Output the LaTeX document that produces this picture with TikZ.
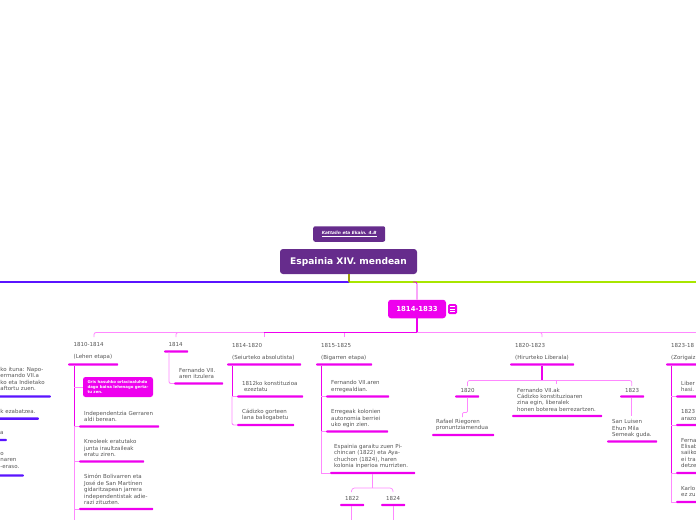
\documentclass[tikz,border=0pt]{standalone}
\usepackage{fontspec}
\setmainfont{DejaVu Sans}
\definecolor{rootp}{HTML}{662C8C}
\definecolor{mag}{HTML}{EE00EE}
\definecolor{lpink}{HTML}{FF88FF}
\definecolor{blu}{HTML}{5A14FF}
\definecolor{grn}{HTML}{A8E600}
\definecolor{txt}{HTML}{555555}
\tikzset{
  bar/.style={fill=mag,draw=none,rounded corners=0.8pt,minimum height=2.4pt,inner sep=0pt},
  bluebar/.style={fill=blu,draw=none,rounded corners=0.8pt,minimum height=2.4pt,inner sep=0pt},
  lbl/.style={anchor=west,inner sep=0pt,text=txt,font=\fontsize{5.5}{6.45}\selectfont,align=left},
  conn/.style={draw=lpink,line width=0.9pt,rounded corners=2pt},
}
\newcommand{\barnode}[4]{\node[bar,minimum width=#3pt-#2pt,anchor=west] (#1) at (#2,#4) {};}
\begin{document}
\begin{tikzpicture}[x=1pt,y=-1pt]
\useasboundingbox (0,0) rectangle (696,520);
\clip (0,0) rectangle (696,520);
% root
\node[fill=rootp,rounded corners=3pt,minimum width=137pt,minimum height=25pt,inner sep=0pt,text=white,font=\fontsize{9.1}{11}\bfseries\selectfont] (root) at (348.5,261.5) {Espainia XIV. mendean};
\node[fill=rootp,rounded corners=2pt,minimum width=72pt,minimum height=15.5pt,inner sep=0pt,text=white,font=\fontsize{4.3}{5}\bfseries\itshape\selectfont] (note) at (349.2,234) {\underline{Kattalin eta Ekain. 4.B}};
\coordinate (jn) at (349,282);
\coordinate (lft) at (0,282);
\coordinate (rgt) at (696,282);
\draw[blu,line width=1.2pt] (jn) -- (lft);
\draw[grn,line width=1.2pt] (jn) -- (rgt);
\draw[draw=olive!70!grn,line width=1.4pt] (root.south -| jn) -- (jn);
% main
\node[fill=mag,rounded corners=3pt,minimum width=58pt,minimum height=18.5pt,inner sep=0pt,text=white,font=\fontsize{6.9}{8}\bfseries\selectfont] (main) at (417,309) {1814-1833};
\node[fill=mag,rounded corners=1.5pt,minimum width=9pt,minimum height=10pt,inner sep=0pt] (ico) at (452.5,309) {};
\draw[white,line width=0.7pt] (449.8,306.5)--(455.2,306.5) (449.8,309)--(455.2,309) (449.8,311.5)--(455.2,311.5);
\coordinate (g0) at (413,282);
\draw[mag,line width=0.8pt,rounded corners=2pt] (g0) -- (417,282) -- (main.north);
\coordinate (hub) at (417,332.5);
\draw[mag,line width=1.1pt] (main.south) -- (hub);
% level 1 bars
\barnode{p1}{68}{118}{364.5}
\barnode{p2}{164}{188}{351.5}
\barnode{p3}{227}{301}{364.5}
\barnode{p4}{316}{372}{364.5}
\barnode{p5}{510}{574}{364.5}
\barnode{p6}{666}{697}{364.5}
% rail
\coordinate (t1) at (94,337);
\coordinate (t2) at (176,337);
\coordinate (t3) at (264,337);
\coordinate (t4) at (344,337);
\coordinate (t5) at (542,337);
\coordinate (t6) at (696,332.5);
\draw[conn,line width=0.8pt] (t1) -- (94,332.5) -- (hub);
\draw[conn,line width=0.8pt] (t2) -- (176,332.5) -- (hub);
\draw[mag,line width=0.9pt] (264,332.5) -- (hub);
\draw[conn,line width=0.8pt] (t3) -- (264,332.5);
\draw[conn,line width=0.8pt] (t4) -- (344,332.5);
\draw[conn,line width=0.8pt] (t5) -- (542,332.5) -- (hub);
\draw[lpink,line width=0.8pt] (hub) -- (t6);
% p1
\node[lbl] (p1a) at (73.5,344) {1810-1814};
\node[lbl] (p1b) at (73.5,357) {(Lehen etapa)};
\node[fill=mag,rounded corners=2.5pt,minimum width=70pt,minimum height=20pt,inner sep=0pt] (pk) at (118,387) {};
\node[anchor=west,inner sep=0pt,text=white,font=\fontsize{3.9}{5.4}\bfseries\selectfont,align=left] (pkt) at (87.3,387) {Gris hasuhko orlacioaluhdo\\dago baina lehenago gerta-\\tu zen.};
\barnode{a1}{79}{159}{426.5}
\node[lbl] (a1t) at (84,416.5) {Independentzia Gerraren\\aldi berean.};
\barnode{a2}{79}{144}{461.5}
\node[lbl] (a2t) at (84,448) {Kreoleek eratutako\\junta iraultzaileak\\eratu ziren.};
\barnode{a3}{79}{153}{509}
\node[lbl] (a3t) at (84,489.5) {Simón Bolivarren eta\\José de San Martínen\\gidaritzapean jarrera\\independentistak adie-\\razi zituzten.};
\coordinate (p1e) at (74,520);
\draw[lpink,line width=1pt] (74,366) -- (p1e);
\draw[mag,line width=1pt] (74,366) -- (74,426.5);
\draw[conn,line width=0.8pt] (74,387) -- (pk.west);
\draw[conn] (74,426.5) -- (a1.west);
\draw[conn] (74,461.5) -- (a2.west);
\draw[conn] (74,509) -- (a3.west);
% p2
\node[lbl] (p2a) at (168.5,344) {1814};
\barnode{b1}{174}{223}{383.5}
\node[lbl] (b1t) at (179,373.5) {Fernando VII.\\aren itzulera};
\draw[conn] (169,352) -- (169,383.5) -- (b1.west);
% p3
\node[lbl] (p3a) at (232,345) {1814-1820};
\node[lbl] (p3b) at (232,358) {(Seiurteko absolutista)};
\barnode{c1}{237}{303}{396.5}
\node[lbl] (c1t) at (242,386.5) {1812ko konstituzioa\\ \hspace*{1.8pt}ezeztatu};
\barnode{c2}{237}{294}{425}
\node[lbl] (c2t) at (242,415) {Cádizko gorteen\\lana baliogabetu};
\draw[mag,line width=0.8pt] (232,366) -- (232,396.5);
\draw[conn] (232,396.5) -- (c1.west);
\draw[conn] (232,396.5) -- (232,425) -- (c2.west);
% p4
\node[lbl] (p4a) at (321,345) {1815-1825};
\node[lbl] (p4b) at (321,358) {(Bigarren etapa)};
\barnode{d1}{326}{389}{396.5}
\node[lbl] (d1t) at (331,386.5) {Fernando VII.aren\\erregealdian.};
\barnode{d2}{326}{388}{431.5}
\node[lbl] (d2t) at (331,418.5) {Erregeak kolonien\\autonomia berriei\\uko egin zien.};
\barnode{d3}{330}{415}{473}
\node[lbl] (d3t) at (334,456.5) {Espainia garaitu zuen Pi-\\chincan (1822) eta Aya-\\chuchon (1824), haren\\kolonia inperioa murrizten.};
\draw[lpink,line width=0.9pt] (321.2,431.5) -- (321.2,473);
\draw[mag,line width=0.8pt] (321.2,366) -- (321.2,431.5);
\draw[conn] (321.2,396.5) -- (d1.west);
\draw[conn] (321.2,431.5) -- (d2.west);
\draw[conn] (321.2,473) -- (d3.west);
\barnode{e1}{340}{364}{505}
\barnode{e2}{381}{405}{505}
\node[lbl] (e1t) at (345,498) {1822};
\node[lbl] (e2t) at (386,498) {1824};
\coordinate (f1) at (372,488);
\draw[lpink,line width=1pt] (372,474) -- (f1);
\draw[conn,line width=0.7pt,rounded corners=3pt] (351.5,492) -- (351.5,488) -- (393,488) -- (393,492);
\coordinate (e1d) at (351.5,520);
\coordinate (e2d) at (393,520);
\draw[conn] (351.5,506) -- (e1d);
\draw[conn] (393,506) -- (e2d);
% p5
\node[lbl] (p5a) at (515,345) {1820-1823};
\node[lbl] (p5b) at (515,358) {(Hirurteko Liberala)};
\barnode{g1}{455}{479}{396.5}
\barnode{g2}{512}{602}{416}
\barnode{g3}{620}{644}{396.5}
\node[lbl] (g1t) at (460.5,390) {1820};
\node[lbl] (g3t) at (625,390) {1823};
\node[lbl] (g2t) at (517,399.7) {Fernando VII.ak\\Cádizko konstituzioaren\\zina egin, liberalek\\honen boterea berrezartzen.};
\barnode{h1}{432}{494}{435}
\node[lbl] (h1t) at (436,425) {Rafael Riegoren\\pronuntziamendua};
\barnode{h2}{607}{657}{441.5}
\node[lbl] (h2t) at (612,428.5) {San Luisen\\Ehun Mila\\Semeak guda.};
\coordinate (f5) at (542,380.5);
\draw[mag,line width=1.1pt] (542,366) -- (f5);
\draw[conn,line width=0.7pt] (467.5,386) -- (467.5,380.5) -- (631.8,380.5) -- (631.8,386);
\draw[conn,line width=0.7pt] (556.5,380.5) -- (556.5,384);
\draw[conn,line width=0.7pt,rounded corners=1.2pt] (467.5,397.5) -- (467.5,412.5) -- (462.5,412.5) -- (462.5,417);
\draw[draw=lpink,line width=0.8pt] (631.8,397.5) -- (631.8,416);
% p6
\node[lbl] (p6a) at (671,345) {1823-18};
\node[lbl] (p6b) at (671,358) {(Zorigaiz};
\barnode{k1}{676}{697}{396.5}
\node[lbl] (k1t) at (681,386.5) {Liber\\hasi.};
\barnode{k2}{676}{697}{425}
\node[lbl] (k2t) at (681,415) {1823\\arazo};
\barnode{k3}{676}{697}{473}
\node[lbl] (k3t) at (681,453) {Ferna\\Elisab\\saiiko\\ei tra\\detze};
\barnode{k4}{676}{697}{502}
\node[lbl] (k4t) at (681,491.5) {Karlo\\ez zu};
\draw[lpink,line width=0.9pt] (671.2,473) -- (671.2,502);
\draw[mag,line width=0.9pt] (671.2,366) -- (671.2,473);
\draw[conn] (671.2,396.5) -- (k1.west);
\draw[conn] (671.2,425) -- (k2.west);
\draw[conn] (671.2,473) -- (k3.west);
\draw[conn] (671.2,502) -- (k4.west);
% left
\node[bluebar,minimum width=52pt,anchor=east] (m1) at (51,396.5) {};
\node[bluebar,minimum width=40pt,anchor=east] (m2) at (39,418.6) {};
\node[bluebar,minimum width=8pt,anchor=east] (m3) at (7,440) {};
\node[bluebar,minimum width=25pt,anchor=east] (m4) at (24,475.5) {};
\node[lbl,anchor=north west] (m1t) at (0.3,367) {ko ituna: Napo-\\ermando VII.a\\ko eta Indietako\\aftortu zuen.};
\node[lbl] (m2t) at (0.3,411) {k ezabatzea.};
\node[lbl] (m3t) at (0,433) {a};
\node[lbl,anchor=north west] (m4t) at (0.3,452) {o\\naren\\-eraso.};
\end{tikzpicture}
\end{document}
